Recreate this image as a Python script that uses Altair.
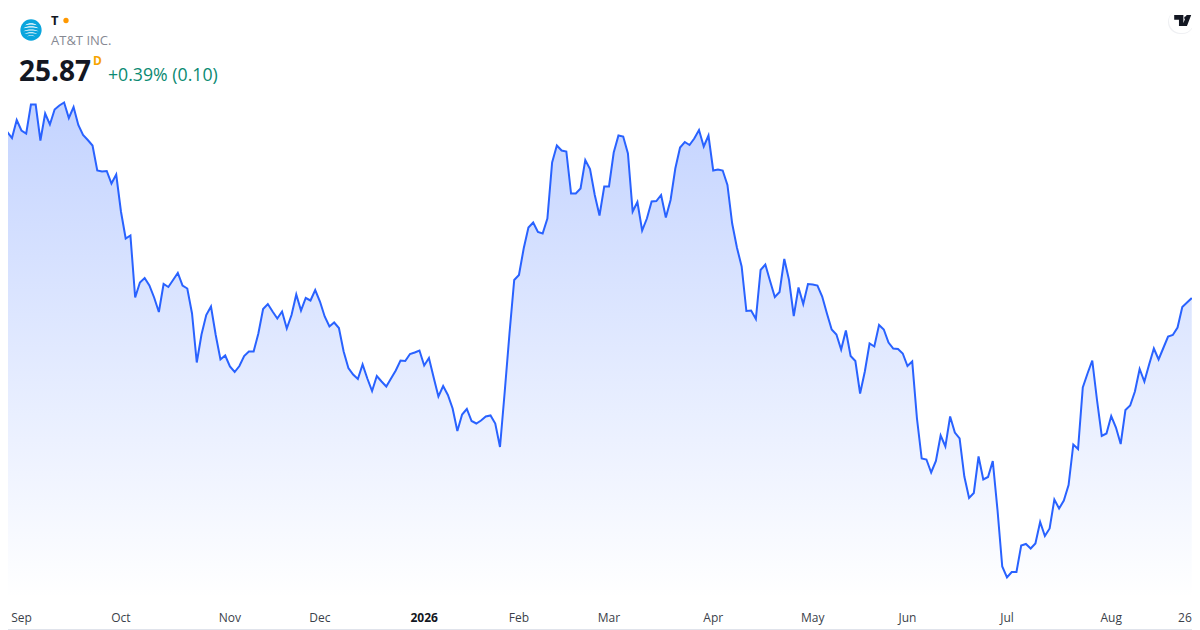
import altair as alt
import pandas as pd

closes = [
28.68,29.19,29.07,29.43,29.22,29.16,29.74,29.74,29.02,29.56,29.34,29.64,29.72,29.78,29.47,29.69,29.33,29.13,29.03,28.92,
28.42,28.40,28.41,28.16,28.34,27.60,27.06,27.12,25.88,26.18,26.27,26.12,25.88,25.59,26.15,26.09,26.23,26.37,26.12,26.06,
25.56,24.58,25.14,25.53,25.70,25.13,24.64,24.72,24.50,24.39,24.51,24.71,24.80,24.80,25.16,25.65,25.75,25.60,25.46,25.60,
25.26,25.53,25.94,25.62,25.87,25.82,26.03,25.80,25.50,25.30,25.38,25.27,24.80,24.47,24.34,24.25,24.54,24.26,24.01,24.31,
24.20,24.10,24.26,24.42,24.62,24.61,24.75,24.78,24.82,24.52,24.67,24.28,23.90,24.11,23.93,23.66,23.21,23.54,23.65,23.41,
23.36,23.42,23.50,23.52,23.36,22.89,24.00,25.16,26.23,26.33,26.86,27.28,27.38,27.19,27.16,27.46,28.58,28.92,28.82,28.80,
27.96,27.96,28.06,28.63,28.45,27.93,27.52,28.10,28.10,28.78,29.12,29.10,28.76,27.60,27.79,27.22,27.46,27.80,27.81,27.93,
27.48,27.83,28.46,28.88,28.99,28.93,29.06,29.23,28.90,29.12,28.42,28.44,28.42,28.13,27.36,26.88,26.50,25.61,25.62,25.45,
26.43,26.54,26.21,25.89,25.99,26.65,26.23,25.51,26.08,25.75,26.15,26.14,26.12,25.90,25.56,25.24,25.14,24.84,25.22,24.71,
24.61,23.96,24.40,24.96,24.90,25.33,25.24,24.98,24.86,24.85,24.76,24.51,24.60,23.46,22.66,22.64,22.38,22.61,23.12,22.90,
23.50,23.18,23.06,22.30,21.87,21.97,22.70,22.24,22.29,22.61,21.63,20.50,20.28,20.39,20.39,20.92,20.95,20.86,20.96,21.39,
21.11,21.26,21.84,21.66,21.82,22.13,22.94,22.85,24.08,24.36,24.62,23.83,23.11,23.16,23.51,23.28,22.95,23.63,23.72,24.00,
24.45,24.20,24.54,24.86,24.64,24.87,25.10,25.13,25.28,25.69,25.78,25.87,
]
tick_index = [4, 25, 48, 67, 89, 109, 128, 150, 171, 191, 212, 234]
tick_labels = ["Sep", "Oct", "Nov", "Dec", "2026", "Feb", "Mar", "Apr", "May", "Jun", "Jul", "Aug"]
tick_bold = [False] * 4 + [True] + [False] * 7
end_index = [251]
end_label = ["26"]

FONT = "Open Sans"
W, H = 1184, 622
x_scale = alt.Scale(domain=[1.16, 251.05], nice=False, zero=False)
y_scale = alt.Scale(domain=[19.23, 31.67], nice=False, zero=False)

df = pd.DataFrame({"i": list(range(len(closes))), "close": closes, "base": [19.87] * len(closes)})
ticks = pd.DataFrame({"i": tick_index, "label": tick_labels, "bold": tick_bold})
ends = pd.DataFrame({"i": end_index, "label": end_label})

x = alt.X("i:Q", scale=x_scale, axis=None)
y = alt.Y("close:Q", scale=y_scale, axis=None)

grad = alt.Gradient(
    gradient="linear", x1=0, x2=0, y1=0, y2=1,
    stops=[alt.GradientStop(offset=0, color="rgba(41,98,255,0.28)"),
           alt.GradientStop(offset=1, color="rgba(41,98,255,0.0)")],
)
area = alt.Chart(df).mark_area(color=grad, clip=True, interpolate="linear").encode(x=x, y=y, y2=alt.Y2("base:Q"))
line = alt.Chart(df).mark_line(color="#2962FF", strokeWidth=2, clip=True, interpolate="linear").encode(x=x, y=y)


def tick_layer(bold):
    return alt.Chart(ticks[ticks["bold"] == bold]).mark_text(
        font=FONT, fontSize=12, color="#131722" if bold else "#3b3f4a",
        fontWeight="bold" if bold else "normal", baseline="middle", align="center",
    ).encode(x=x, y=alt.value(610), text="label:N")


end_tick = alt.Chart(ends).mark_text(
    font=FONT, fontSize=12, color="#3b3f4a", baseline="middle", align="right",
).encode(x=x, y=alt.value(610), text="label:N")


def txt(s, px, py, size, color, weight="normal"):
    return alt.Chart(pd.DataFrame({"t": [s]})).mark_text(
        font=FONT, fontSize=size, color=color, fontWeight=weight, align="left", baseline="alphabetic"
    ).encode(x=alt.value(px - 8), y=alt.value(py - 8), text="t:N")


def dot(px, py, size, color, shape="circle"):
    return alt.Chart(pd.DataFrame({"t": [0]})).mark_point(
        shape=shape, filled=True, size=size, color=color, opacity=1
    ).encode(x=alt.value(px - 8), y=alt.value(py - 8))


def box(x1, x2, y1, y2, color, radius=0):
    return alt.Chart(pd.DataFrame({"t": [0]})).mark_rect(color=color, cornerRadius=radius).encode(
        x=alt.value(x1 - 8), x2=alt.value(x2 - 8), y=alt.value(y1 - 8), y2=alt.value(y2 - 8)
    )


GLOBE = ("M-0.48,-0.40 C-0.2,-0.62 0.2,-0.62 0.48,-0.40 C0.2,-0.48 -0.2,-0.48 -0.48,-0.40 Z "
         "M-0.62,-0.14 C-0.3,-0.36 0.3,-0.36 0.62,-0.14 C0.3,-0.24 -0.3,-0.24 -0.62,-0.14 Z "
         "M-0.64,0.12 C-0.3,-0.10 0.3,-0.10 0.64,0.12 C0.3,0.02 -0.3,0.02 -0.64,0.12 Z "
         "M-0.54,0.34 C-0.25,0.14 0.25,0.14 0.54,0.34 C0.25,0.25 -0.25,0.25 -0.54,0.34 Z "
         "M-0.34,0.54 C-0.15,0.40 0.15,0.40 0.34,0.54 C0.15,0.47 -0.15,0.47 -0.34,0.54 Z")
TV = ("M-1,-0.65 L0.08,-0.65 L0.08,0.65 L-0.44,0.65 L-0.44,-0.1 L-1,-0.1 Z "
      "M0.45,-0.65 L1,-0.65 L0.5,0.65 L-0.05,0.65 Z")

layers = [
    area, line, tick_layer(False), tick_layer(True), end_tick,
    box(1168, 1194, 10, 34, "#eff0f3", 12),
    box(1169, 1194, 9, 33, "#ffffff", 12),
    dot(1182.7, 20.5, 289, "#131722", TV),
    dot(1185.7, 17.7, 9, "#131722"),
    dot(31, 30, 452, "#0aa5dd"),
    dot(31, 30, 576, "#ffffff", GLOBE),
    txt("T", 51, 25, 13, "#131722", "bold"),
    dot(66, 20.5, 28, "#ff9800"),
    txt("AT&T INC.", 51, 45, 13, "#868993"),
    txt("25.87", 19, 81, 28, "#131722", "bold"),
    txt("D", 93, 65, 12, "#f7a400", "bold"),
    txt("+0.39% (0.10)", 108, 81, 17.7, "#0b8a72"),
    box(0, 1194, 629, 630, "#e0e3eb"),
]

chart = alt.layer(*layers).properties(
    width=W, height=H, padding=0,
    autosize=alt.AutoSizeParams(type="none", contains="content"),
).configure_view(stroke=None)

chart.save("out.html", embed_options={"renderer": "svg", "actions": False})
